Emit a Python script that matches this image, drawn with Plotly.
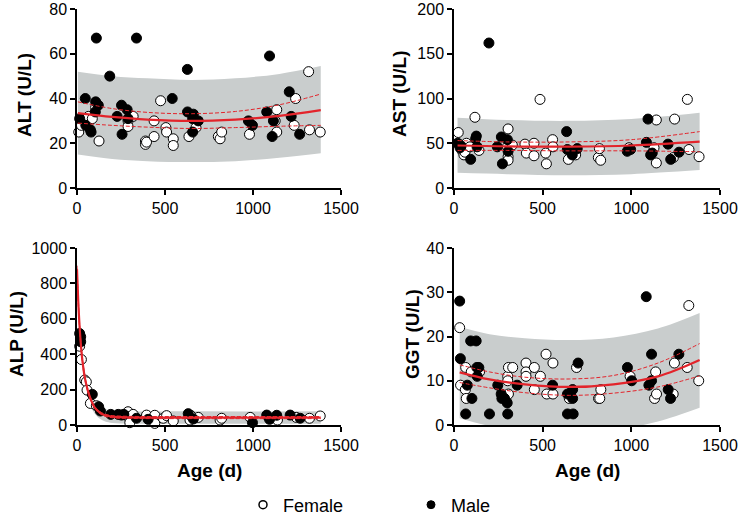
import plotly.graph_objects as go

# ---- data (age in days, enzyme in U/L) ----
alt_f_x = [10, 25, 53, 65, 87, 106, 125, 290, 290, 319, 389, 389, 395, 438, 438, 475, 505, 509, 547, 547,
           636, 676, 803, 813, 822, 980, 1126, 1135, 1135, 1234, 1242, 1316, 1321, 1382]
alt_f_y = [25, 28, 31, 32, 31, 36, 21, 30, 27.5, 32, 21, 19.5, 20.5, 30, 23, 39, 27, 25, 22, 19,
           23, 27, 23, 22, 25, 24, 30, 35, 25, 28, 40, 52, 26, 25]
alt_m_x = [15, 47, 50, 76, 80, 104, 106, 110, 121, 186, 228, 253, 256, 285, 290, 338, 541, 627, 628, 657,
           657, 661, 689, 974, 997, 1078, 1094, 1109, 1116, 1206, 1217, 1265]
alt_m_y = [31, 40, 28, 26, 25, 34, 38.5, 67, 37, 50, 32, 37, 24, 35, 31, 67, 40, 53, 34, 31,
           25, 33, 30, 30, 28, 34, 59, 23, 30, 43, 32, 24]

ast_f_x = [24, 28, 45, 56, 62, 70, 90, 118, 141, 301, 305, 305, 305, 329, 400, 408, 451, 451, 485, 517,
           521, 556, 558, 645, 686, 814, 820, 827, 987, 1128, 1141, 1141, 1237, 1244, 1316, 1325, 1382]
ast_f_y = [62, 49, 42, 37, 40, 50, 46, 79, 42, 46, 66, 35, 31, 48, 49, 39, 50, 36, 99, 39,
           27, 54, 46, 32, 37, 34, 44, 31, 45, 45, 76, 28, 34, 77, 99, 43, 35]
ast_m_x = [20, 34, 40, 94, 122, 126, 130, 197, 244, 267, 273, 301, 305, 635, 639, 667, 695, 977, 996,
           1085, 1094, 1109, 1118, 1207, 1222, 1269]
ast_m_y = [50, 45, 47, 32, 55, 58, 46, 162, 46, 57, 27, 54, 41, 63, 43, 37, 44, 41, 43,
           51, 77, 37, 39, 49, 32, 40]

alp_f_x = [15, 25, 44, 53, 57, 76, 110, 290, 290, 300, 319, 395, 442, 442, 490, 509, 547, 642, 645, 689,
           813, 822, 984, 1131, 1139, 1246, 1321, 1382]
alp_f_y = [445, 370, 254, 244, 197, 122, 109, 75, 47, 13, 60, 56, 55, 9, 38, 53, 23, 28, 55, 43,
           28, 38, 43, 43, 28, 43, 38, 51]
alp_m_x = [15, 21, 21, 87, 123, 133, 192, 234, 253, 266, 338, 404, 632, 661, 997, 1078, 1094, 1135, 1211, 1268]
alp_m_y = [517, 498, 470, 173, 103, 79, 60, 60, 56, 60, 38, 32, 64, 34, 13, 56, 32, 55, 56, 38]

ggt_f_x = [32, 37, 64, 66, 69, 97, 144, 303, 303, 307, 307, 331, 406, 406, 406, 453, 453, 487, 519, 523,
           558, 558, 650, 691, 815, 822, 828, 993, 1131, 1137, 1142, 1236, 1243, 1315, 1324, 1380]
ggt_f_y = [22, 9, 8, 13, 6, 12, 12, 11, 10, 13, 7, 13, 14, 12, 11, 13, 8, 11, 16, 7,
           14, 7, 6, 13, 6, 6, 8, 11, 6, 12, 7, 7, 14, 13, 27, 10]
ggt_m_x = [32, 36, 66, 75, 94, 101, 125, 129, 131, 140, 200, 247, 266, 270, 285, 300, 303, 356, 556, 640,
           640, 669, 669, 672, 700, 978, 1002, 1084, 1099, 1114, 1114, 1208, 1221, 1268]
ggt_m_y = [28, 15, 2.5, 9, 19, 6, 19, 13, 11, 13, 2.5, 9, 7, 6, 6, 5, 2.5, 9, 9, 7,
           2.5, 8, 6, 2.5, 14, 13, 10, 29, 9, 16, 10, 8, 6, 16]

# fitted curve, 95% CI and prediction band, read at a few ages
alt_fit_x = [5, 200, 400, 650, 900, 1150, 1385]
alt_mean = [33.5, 31.8, 30.6, 30.0, 30.6, 32.2, 34.8]
alt_ci_hi = [38.5, 35.5, 33.8, 33.2, 34.2, 37.2, 42.0]
alt_ci_lo = [29.0, 28.0, 27.2, 26.6, 27.0, 27.6, 28.0]
alt_pi_hi = [52.0, 50.0, 49.0, 48.3, 49.0, 51.0, 54.5]
alt_pi_lo = [15.0, 13.0, 12.0, 11.6, 12.0, 13.5, 15.5]

ast_fit_x = [20, 300, 650, 1000, 1385]
ast_mean = [47.5, 46.5, 46.2, 47.5, 51.8]
ast_ci_hi = [53.0, 51.5, 51.5, 54.0, 63.0]
ast_ci_lo = [42.0, 42.0, 41.5, 41.5, 40.5]
ast_pi_hi = [78.5, 76.0, 75.0, 77.0, 84.0]
ast_pi_lo = [17.0, 15.5, 14.3, 15.5, 20.0]

alp_fit_x = [0, 10, 20, 30, 45, 60, 80, 100, 130, 160, 200, 300, 700, 1385]
alp_mean = [880, 640, 480, 370, 265, 200, 140, 100, 70, 55, 47, 43, 42, 42]
alp_ci_hi = [900, 660, 495, 382, 275, 208, 147, 106, 76, 61, 53, 49, 48, 48]
alp_ci_lo = [860, 620, 465, 358, 255, 192, 133, 94, 64, 49, 41, 37, 36, 36]
alp_pi_hi = [915, 675, 515, 405, 300, 235, 175, 135, 105, 90, 82, 78, 77, 77]
alp_pi_lo = [845, 605, 445, 335, 230, 165, 105, 65, 35, 20, 12, 8, 7, 7]

ggt_fit_x = [32, 200, 400, 650, 900, 1150, 1385]
ggt_mean = [11.9, 10.3, 9.2, 8.6, 9.2, 11.0, 14.7]
ggt_ci_hi = [13.6, 12.0, 10.8, 10.4, 11.2, 14.0, 18.4]
ggt_ci_lo = [9.6, 8.4, 7.3, 6.7, 7.2, 8.6, 11.1]
ggt_pi_hi = [22.2, 20.5, 19.6, 19.2, 19.8, 21.8, 25.3]
ggt_pi_lo = [1.5, -0.2, -1.2, -1.8, -1.2, 0.8, 3.9]

FONT = "Liberation Sans, Arial, sans-serif"
RED = "#e3242b"
BAND = "#c9cdcd"

panels = [
    dict(label="ALT (U/L)", fx=alt_f_x, fy=alt_f_y, mx=alt_m_x, my=alt_m_y, fit_x=alt_fit_x,
         mean=alt_mean, ci_hi=alt_ci_hi, ci_lo=alt_ci_lo, pi_hi=alt_pi_hi, pi_lo=alt_pi_lo, ymax=80, dtick=20),
    dict(label="AST (U/L)", fx=ast_f_x, fy=ast_f_y, mx=ast_m_x, my=ast_m_y, fit_x=ast_fit_x,
         mean=ast_mean, ci_hi=ast_ci_hi, ci_lo=ast_ci_lo, pi_hi=ast_pi_hi, pi_lo=ast_pi_lo, ymax=200, dtick=50),
    dict(label="ALP (U/L)", fx=alp_f_x, fy=alp_f_y, mx=alp_m_x, my=alp_m_y, fit_x=alp_fit_x,
         mean=alp_mean, ci_hi=alp_ci_hi, ci_lo=alp_ci_lo, pi_hi=alp_pi_hi, pi_lo=alp_pi_lo, ymax=1000, dtick=200),
    dict(label="GGT (U/L)", fx=ggt_f_x, fy=ggt_f_y, mx=ggt_m_x, my=ggt_m_y, fit_x=ggt_fit_x,
         mean=ggt_mean, ci_hi=ggt_ci_hi, ci_lo=ggt_ci_lo, pi_hi=ggt_pi_hi, pi_lo=ggt_pi_lo, ymax=40, dtick=10),
]

W, H = 742, 517
# pixel boxes of the four plot areas (left, right, top, bottom)
boxes = [(77, 341, 9, 188), (454, 720, 9, 188), (77, 341, 248, 425), (454, 720, 248, 425)]
title_pos = [(24, 95), (399, 94), (16, 334), (412, 334)]

fig = go.Figure()
layout = dict(
    width=W, height=H, margin=dict(l=0, r=0, t=0, b=0, autoexpand=False),
    paper_bgcolor="white", plot_bgcolor="white",
    font=dict(family=FONT, size=16, color="black"),
    showlegend=True,
    legend=dict(orientation="h", x=243 / W, y=1 - 505 / H, xanchor="left", yanchor="middle",
                font=dict(size=18), entrywidth=123, entrywidthmode="pixels",
                itemsizing="trace", traceorder="normal", bgcolor="rgba(0,0,0,0)"),
)
annotations = []

for i, p in enumerate(panels):
    n = "" if i == 0 else str(i + 1)
    xa, ya = "x" + n, "y" + n
    l, r, t, b = boxes[i]
    axis_style = dict(showline=True, linecolor="black", linewidth=1.5, ticks="outside",
                      ticklen=5, tickwidth=1.5, tickcolor="black", showgrid=False, zeroline=False,
                      automargin=False, tickfont=dict(size=16, family=FONT))
    layout["xaxis" + n] = dict(domain=[l / W, r / W], anchor=ya, range=[0, 1500],
                               tickvals=[0, 500, 1000, 1500], **axis_style)
    layout["yaxis" + n] = dict(domain=[1 - b / H, 1 - t / H], anchor=xa, range=[0, p["ymax"]],
                               dtick=p["dtick"], **axis_style)

    # prediction band
    fig.add_trace(go.Scatter(x=p["fit_x"], y=p["pi_hi"], mode="lines", line=dict(width=0, shape="spline"),
                             xaxis=xa, yaxis=ya, showlegend=False, hoverinfo="skip"))
    fig.add_trace(go.Scatter(x=p["fit_x"], y=p["pi_lo"], mode="lines", line=dict(width=0, shape="spline"),
                             fill="tonexty", fillcolor=BAND, xaxis=xa, yaxis=ya,
                             showlegend=False, hoverinfo="skip"))

    # points
    fig.add_trace(go.Scatter(x=p["fx"], y=p["fy"], mode="markers", name="Female",
                             marker=dict(size=10, color="white", line=dict(color="black", width=1)),
                             cliponaxis=False, xaxis=xa, yaxis=ya, showlegend=False))
    fig.add_trace(go.Scatter(x=p["mx"], y=p["my"], mode="markers", name="Male",
                             marker=dict(size=10, color="black", line=dict(color="black", width=1)),
                             cliponaxis=False, xaxis=xa, yaxis=ya, showlegend=False))

    # fit and confidence interval
    for key in ("ci_hi", "ci_lo"):
        fig.add_trace(go.Scatter(x=p["fit_x"], y=p[key], mode="lines",
                                 line=dict(color=RED, width=1, dash="4px,2px", shape="spline"),
                                 xaxis=xa, yaxis=ya, showlegend=False, hoverinfo="skip"))
    fig.add_trace(go.Scatter(x=p["fit_x"], y=p["mean"], mode="lines",
                             line=dict(color=RED, width=2.2, shape="spline"),
                             xaxis=xa, yaxis=ya, showlegend=False))

    tx, ty = title_pos[i]
    annotations.append(dict(text="<b>%s</b>" % p["label"], x=tx / W, y=1 - ty / H, xref="paper",
                            yref="paper", xanchor="center", yanchor="middle", showarrow=False,
                            textangle=-90, font=dict(size=19, family=FONT)))

# legend-only entries with the smaller symbols of the reference key
fig.add_trace(go.Scatter(x=[None], y=[None], mode="markers", name="Female",
                         marker=dict(size=8, color="white", line=dict(color="black", width=1.5))))
fig.add_trace(go.Scatter(x=[None], y=[None], mode="markers", name="Male",
                         marker=dict(size=8, color="black", line=dict(color="black", width=1))))

for cx in (209, 587):
    annotations.append(dict(text="<b>Age (d)</b>", x=cx / W, y=1 - 470 / H, xref="paper", yref="paper",
                            xanchor="center", yanchor="middle", showarrow=False,
                            font=dict(size=19, family=FONT)))

layout["annotations"] = annotations
fig.update_layout(**layout)
# drop the default body margin so the figure sits at the window's top-left corner
fig.write_html("out.html", config={"displayModeBar": False},
               post_script="document.body.style.margin='0';document.body.style.overflow='hidden';")
